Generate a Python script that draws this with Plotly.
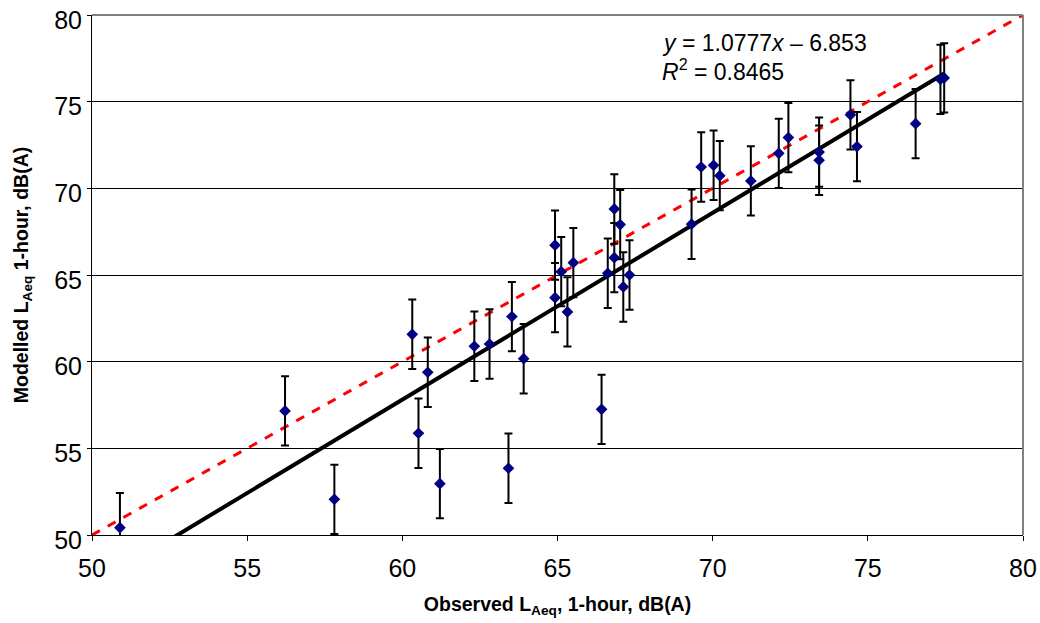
import plotly.graph_objects as go

observed = [50.9, 56.22, 57.81, 60.32, 60.82, 60.52, 61.21, 62.32, 62.81, 63.53, 63.42, 63.91,
            64.92, 64.92, 65.12, 65.32, 65.51, 66.42, 66.62, 66.83, 66.83, 67.02, 67.12, 67.32,
            69.32, 69.63, 70.03, 70.23, 71.23, 72.13, 72.44, 73.43, 73.43, 74.44, 74.65, 76.54,
            77.34, 77.46]
modelled = [50.42, 57.16, 52.06, 61.58, 59.39, 55.87, 52.96, 60.89, 61.02, 62.60, 53.85, 60.17,
            66.72, 63.69, 65.19, 62.87, 65.71, 57.25, 65.10, 68.81, 66.00, 67.91, 64.31, 65.00,
            67.93, 71.23, 71.33, 70.73, 70.43, 72.02, 72.93, 72.09, 71.62, 74.24, 72.41, 73.73,
            76.29, 76.37]
error_db = 2.0
slope, intercept = 1.0777, -6.853
x_range = [50, 80]
ticks = [50, 55, 60, 65, 70, 75, 80]

fig = go.Figure()

fig.add_trace(go.Scatter(x=x_range, y=x_range, mode="lines",
                         line=dict(color="#ff0000", width=3, dash="dash"),
                         hoverinfo="skip", showlegend=False))
tx = [min(observed), max(observed)]
fig.add_trace(go.Scatter(x=tx, y=[slope * v + intercept for v in tx], mode="lines",
                         line=dict(color="black", width=4), hoverinfo="skip", showlegend=False))
fig.add_trace(go.Scatter(x=observed, y=modelled, mode="markers",
                         marker=dict(symbol="diamond", size=9, color="#000080"),
                         error_y=dict(type="constant", value=error_db, color="black",
                                      thickness=2, width=4),
                         showlegend=False))

font_family = "Liberation Sans, Arial, sans-serif"
fig.update_layout(
    width=1040, height=623,
    margin=dict(l=92, r=17, t=15, b=88),
    paper_bgcolor="white", plot_bgcolor="white",
    font=dict(family=font_family, color="black", size=22),
    xaxis=dict(range=x_range, tickvals=ticks, showgrid=False, zeroline=False, automargin=False,
               showline=True, linecolor="black", linewidth=1, mirror=False,
               ticks="outside", ticklen=5, tickcolor="black",
               tickfont=dict(size=25), ticklabelstandoff=6,
               title=dict(text="<b>Observed L<sub>Aeq</sub>, 1-hour, dB(A)</b>",
                          font=dict(size=19.5), standoff=16)),
    yaxis=dict(range=[50, 80], tickvals=ticks, showgrid=True, gridcolor="black", gridwidth=1,
               zeroline=False, showline=True, linecolor="black", linewidth=1, automargin=False,
               ticks="outside", ticklen=4, tickcolor="black",
               tickfont=dict(size=25), ticklabelshift=5, ticklabelstandoff=0,
               ticklabeloverflow="allow",
               title=dict(text="<b>Modelled L<sub>Aeq</sub> 1-hour, dB(A)</b>",
                          font=dict(size=19.5), standoff=20)),
    shapes=[
        dict(type="line", xref="paper", yref="paper", x0=0, x1=1, y0=1, y1=1,
             line=dict(color="#808080", width=2)),
        dict(type="line", xref="paper", yref="paper", x0=1, x1=1, y0=0, y1=1,
             line=dict(color="#808080", width=2)),
    ],
    annotations=[
        dict(x=68.30, y=78.38, xref="x", yref="y", xanchor="left", yanchor="middle",
             text="<i>y</i> = 1.0777<i>x</i> – 6.853", showarrow=False, font=dict(size=23)),
        dict(x=68.30, y=76.80, xref="x", yref="y", xanchor="left", yanchor="middle",
             text="<i>R</i><sup>2</sup> = 0.8465", showarrow=False, font=dict(size=23)),
    ],
)

fig.write_html("out.html", config={"displayModeBar": False},
               post_script="document.body.style.margin='0';document.body.style.overflow='hidden';")
